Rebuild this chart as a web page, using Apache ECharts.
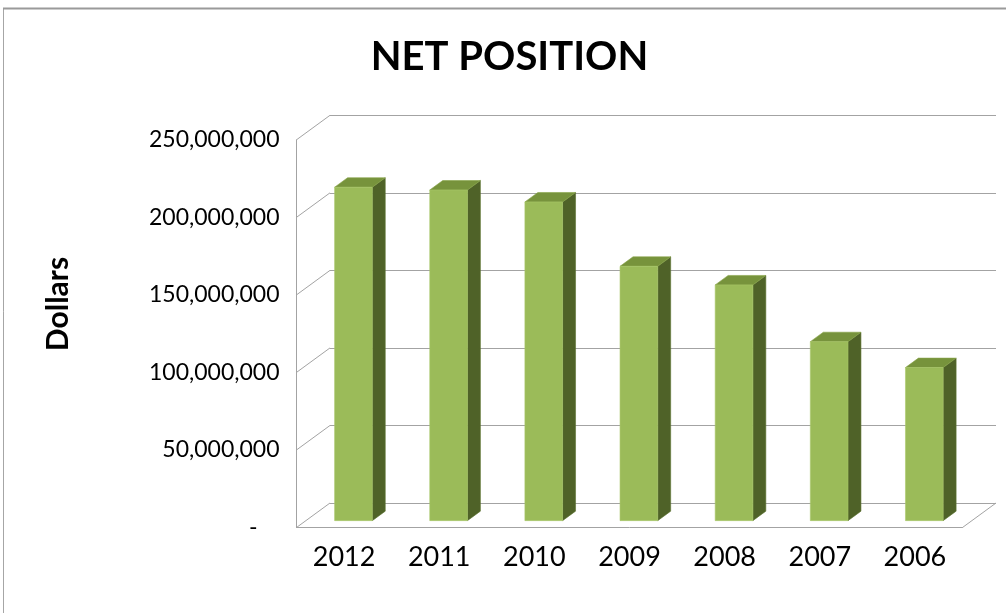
<!DOCTYPE html>
<html>
<head>
<meta charset="utf-8">
<script src="https://cdn.jsdelivr.net/npm/echarts@6/dist/echarts.min.js"></script>
<style>html,body{margin:0;padding:0;background:#fff}#c{width:1006px;height:613px}</style>
</head>
<body>
<div id="c"></div>
<script>
const categories = ['2012', '2011', '2010', '2009', '2008', '2007', '2006'];
const netPosition = [215000000, 213200000, 205500000, 164000000, 152000000, 115400000, 98700000];
const yTickValues = [0, 50000000, 100000000, 150000000, 200000000, 250000000];
const titleText = 'NET POSITION';
const yAxisTitle = 'Dollars';

const D = [-33.5, 24.5];           // depth vector: back wall -> front edge
const FRONT_T = 0.72, BACK_T = 0.333, BAR_W = 0.396;
const GRID_COLOR = '#a3a3a3';
const FONT = 'Lato';

const chart = echarts.init(document.getElementById('c'), null, {renderer: 'canvas'});

const option = {
  backgroundColor: '#ffffff',
  animation: false,
  textStyle: {fontFamily: FONT},
  grid: [
    {left: 330, right: 10, top: 115.3, bottom: 110},
    {left: 296.5, right: 43.5, top: 139.8, bottom: 85.5}
  ],
  xAxis: [
    {gridIndex: 0, type: 'category', data: categories, boundaryGap: true, show: false},
    {gridIndex: 1, type: 'category', data: categories, boundaryGap: true,
     axisLine: {show: true, lineStyle: {color: GRID_COLOR, width: 1}},
     axisTick: {show: false},
     axisLabel: {color: '#000', fontSize: 27, fontFamily: FONT, margin: 16}}
  ],
  yAxis: [
    {gridIndex: 0, type: 'value', min: 0, max: 250000000, interval: 50000000,
     axisLine: {show: false}, axisTick: {show: false}, axisLabel: {show: false},
     splitLine: {show: true, lineStyle: {color: GRID_COLOR, width: 1}}},
    {gridIndex: 1, type: 'value', min: 0, max: 250000000, interval: 50000000,
     axisLine: {show: true, lineStyle: {color: GRID_COLOR, width: 1}},
     axisTick: {show: false}, splitLine: {show: false},
     axisLabel: {color: '#000', fontSize: 23, fontFamily: FONT, margin: 17,
       formatter: function (v) { return v === 0 ? '{d|-}' : v.toLocaleString('en-US'); },
       rich: {d: {fontSize: 23, fontFamily: FONT, color: '#000', padding: [0, 22, 0, 0]}}}}
  ],
  series: [
    {
      type: 'custom', xAxisIndex: 0, yAxisIndex: 0, z: 1, silent: true,
      data: yTickValues.map(v => [0, v]),
      renderItem: function (params, api) {
        const cs = params.coordSys;
        const y = api.coord([0, api.value(1)])[1];
        const x = cs.x;
        const children = [{
          type: 'line',
          shape: {x1: x, y1: y, x2: x + D[0], y2: y + D[1]},
          style: {stroke: GRID_COLOR, lineWidth: 1}
        }];
        if (api.value(1) === 0) {
          const xr = cs.x + cs.width;
          children.push({
            type: 'line',
            shape: {x1: xr, y1: y, x2: xr + D[0], y2: y + D[1]},
            style: {stroke: GRID_COLOR, lineWidth: 1}
          });
        }
        return {type: 'group', children: children};
      }
    },
    {
      type: 'custom', xAxisIndex: 0, yAxisIndex: 0, z: 5, silent: true,
      data: netPosition.map((v, i) => [i, v]),
      renderItem: function (params, api) {
        const i = api.value(0), v = api.value(1);
        const base = api.coord([i, 0]);
        const top = api.coord([i, v]);
        const h = base[1] - top[1];
        const bw = api.size([1, 0])[0] * BAR_W;
        const cx = base[0] + FRONT_T * D[0];
        const by = base[1] + FRONT_T * D[1];
        const dx = (BACK_T - FRONT_T) * D[0];
        const dy = (BACK_T - FRONT_T) * D[1];
        const xl = cx - bw / 2, xr = cx + bw / 2, yt = by - h;
        return {
          type: 'group',
          children: [
            {type: 'polygon', shape: {points: [[xr, yt], [xr + dx, yt + dy], [xr + dx, by + dy], [xr, by]]},
             style: {fill: '#4f6228', stroke: '#5d7330', lineWidth: 0.6}},
            {type: 'polygon', shape: {points: [[xl, yt], [xl + dx, yt + dy], [xr + dx, yt + dy], [xr, yt]]},
             style: {fill: '#77933c', stroke: '#86a247', lineWidth: 0.6}},
            {type: 'rect', shape: {x: xl, y: yt, width: bw, height: h},
             style: {fill: '#9bbb59', stroke: '#a9c86a', lineWidth: 0.6}}
          ]
        };
      }
    }
  ],
  graphic: [
    {type: 'rect', silent: true, shape: {x: 3.5, y: 8.5, width: 1100, height: 700},
     style: {fill: 'none', stroke: '#a6a6a6', lineWidth: 1}},
    {type: 'line', silent: true, shape: {x1: 3, y1: 8.5, x2: 1006, y2: 8.5},
     style: {stroke: '#9a9a9a', lineWidth: 2}},
    {type: 'text', silent: true, x: 509.5, y: 57,
     style: {text: titleText, fontFamily: FONT, fontWeight: 'bold', fontSize: 40, fill: '#000',
             textAlign: 'center', textVerticalAlign: 'middle'}},
    {type: 'text', silent: true, x: 58, y: 304, rotation: Math.PI / 2,
     style: {text: yAxisTitle, fontFamily: FONT, fontWeight: 'bold', fontSize: 30, fill: '#000',
             textAlign: 'center', textVerticalAlign: 'middle'}}
  ]
};
chart.setOption(option);
</script>
</body>
</html>
